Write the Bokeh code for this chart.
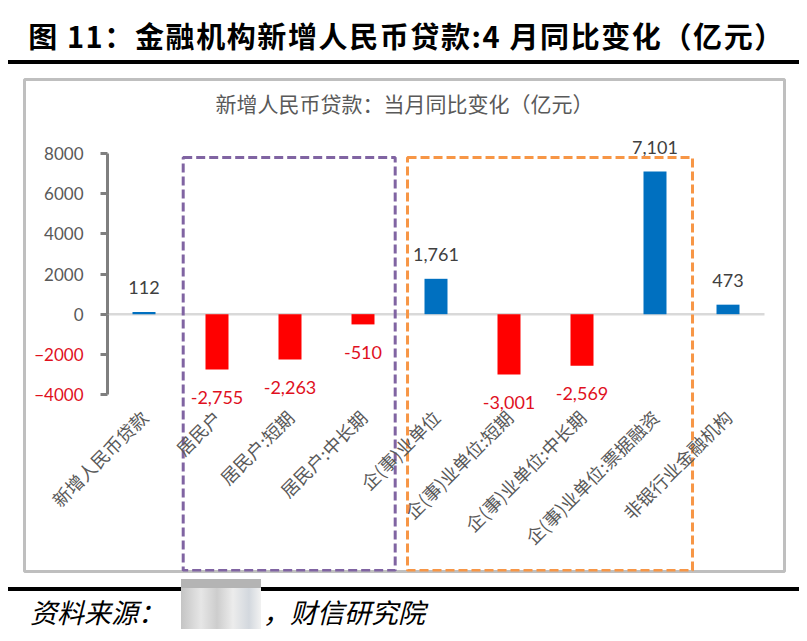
import math
from bokeh.plotting import figure
from bokeh.models import ColumnDataSource, LinearAxis, FixedTicker, Div, Range1d
from bokeh.layouts import column
from bokeh.core.properties import value
from bokeh.embed import file_html
from bokeh.resources import INLINE

# ---------------- data ----------------
categories = ["新增人民币贷款", "居民户", "居民户:短期", "居民户:中长期", "企(事)业单位",
              "企(事)业单位:短期", "企(事)业单位:中长期", "企(事)业单位:票据融资", "非银行业金融机构"]
values = [112, -2755, -2263, -510, 1761, -3001, -2569, 7101, 473]
y_ticks_pos = [0, 2000, 4000, 6000, 8000]
y_ticks_neg = [-4000, -2000]

fig_title = "图 11：金融机构新增人民币贷款:4 月同比变化（亿元）"
chart_title = "新增人民币贷款：当月同比变化（亿元）"
source_pre = "资料来源："
source_post = "，财信研究院"

# ---------------- styles ----------------
BLUE = "#0070C0"
RED = "#FF0000"
LABEL_RED = "#E0101E"
GRAY = "#595959"
AXIS_GRAY = "#7F7F7F"
CJK = "Noto Sans CJK SC"
NUM = "Lato"

xs = list(range(len(categories)))
colors = [BLUE if v >= 0 else RED for v in values]
src = ColumnDataSource(dict(x=xs, v=values, c=colors))
pos = ColumnDataSource(dict(x=[x for x, v in zip(xs, values) if v >= 0],
                            v=[v for v in values if v >= 0],
                            lab=[f"{v:,}" for v in values if v >= 0]))
neg = ColumnDataSource(dict(x=[x for x, v in zip(xs, values) if v < 0],
                            v=[v for v in values if v < 0],
                            lab=[f"{v:,}" for v in values if v < 0]))

p = figure(width=807, height=523,
           x_range=Range1d(-1.637, 8.774), y_range=Range1d(-12813, 11685),
           x_axis_type=None, y_axis_type=None,
           toolbar_location=None, output_backend="svg",
           min_border_left=24, min_border_right=23, min_border_top=15, min_border_bottom=16)
p.outline_line_color = "#BFBFBF"
p.outline_line_width = 3
p.background_fill_color = "white"
p.border_fill_color = "white"

# zero line (category axis)
p.segment(x0=[-0.5], y0=[0], x1=[len(categories) - 0.5], y1=[0], line_color="#D9D9D9", line_width=2.5)

# bars
p.vbar(x="x", top="v", bottom=0, width=0.315, fill_color="c", line_color=None, source=src)

# value labels
p.text(x="x", y="v", text="lab", source=pos, text_align="center", text_baseline="middle",
       y_offset=-24, text_color="#404040", text_font=value(NUM), text_font_size="18px")
p.text(x="x", y="v", text="lab", source=neg, text_align="center", text_baseline="middle",
       y_offset=28, text_color=LABEL_RED, text_font=value(NUM), text_font_size="18px")

# chart title inside the frame
p.text(x=[3.568], y=[10490], text=[chart_title], text_align="center", text_baseline="middle",
       text_color=GRAY, text_font=value(CJK), text_font_size="21px")

# dashed group boxes
p.quad(left=[0.537], right=[3.441], top=[7800], bottom=[-12764], fill_color=None,
       line_color="#8064A2", line_width=3, line_dash="9 4")
p.quad(left=[3.61], right=[7.514], top=[7800], bottom=[-12764], fill_color=None,
       line_color="#F79646", line_width=3, line_dash="9 4")

# y axes (positive labels gray, negative labels red)
for ticks, bounds, col in [(y_ticks_pos, (0, 8000), GRAY), (y_ticks_neg, (-4000, 0), LABEL_RED)]:
    ax = LinearAxis(ticker=FixedTicker(ticks=ticks), bounds=bounds, fixed_location=-0.5,
                    axis_line_color=AXIS_GRAY, axis_line_width=3,
                    major_tick_line_color=AXIS_GRAY, major_tick_line_width=3,
                    major_tick_out=7, major_tick_in=0, minor_tick_line_color=None,
                    major_label_text_color=col, major_label_text_font=NUM,
                    major_label_text_font_size="17px", major_label_standoff=17)
    p.add_layout(ax, "left")

# category axis
xa = LinearAxis(ticker=FixedTicker(ticks=xs),
                major_label_overrides={i: c for i, c in enumerate(categories)},
                fixed_location=-4000, axis_line_color=None, major_tick_line_color=None,
                minor_tick_line_color=None, major_label_orientation=math.pi / 4,
                major_label_text_color=GRAY, major_label_text_font=CJK,
                major_label_text_font_size="18px", major_label_standoff=13)
p.add_layout(xa, "below")

head = Div(text=(
    '<div style="margin-left:8px;width:791px;height:64px;padding-top:14px;box-sizing:border-box;'
    'border-bottom:4px solid #000;">'
    '<div style="height:44px;display:flex;align-items:center;justify-content:center;padding-left:6px;'
    f"font-family:'{CJK}';font-weight:bold;font-size:29px;letter-spacing:1.6px;color:#000;white-space:nowrap;\">"
    f"{fig_title}</div></div>"), width=807, height=64, margin=0)

foot = Div(text=(
    '<div style="margin-left:8px;width:791px;height:46px;border-top:4px solid #000;box-sizing:border-box;'
    'display:flex;align-items:center;padding-left:22px;'
    f"font-family:'{CJK}';font-style:italic;font-size:27px;color:#000;white-space:nowrap;\">"
    f"{source_pre}"
    '<span style="display:inline-block;width:80px;height:50px;margin:0 2px 0 16px;position:relative;top:-8px;'
    'background:linear-gradient(180deg,#b4b4b4 0%,#b4b4b4 18%,rgba(0,0,0,0) 19%),'
    'linear-gradient(90deg,#c4c4c4 0%,#e6e6e6 25%,#cdcdcd 45%,#ececec 65%,#d3d8de 85%,#f2f2f2 100%);"></span>'
    f"{source_post}</div>"), width=807, height=54, margin=0)

layout = column(head, p, foot, spacing=0)
open("out.html", "w").write(file_html(layout, INLINE))
